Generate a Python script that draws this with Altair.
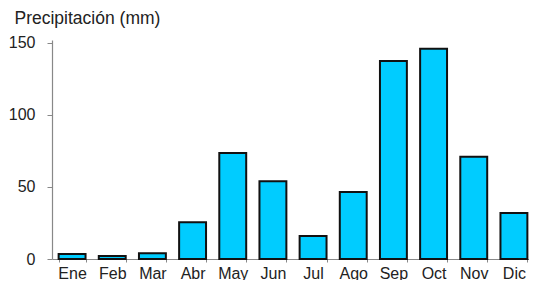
import altair as alt
import pandas as pd

months = ["Ene", "Feb", "Mar", "Abr", "May", "Jun", "Jul", "Ago", "Sep", "Oct", "Nov", "Dic"]
precip = [3.5, 2, 4, 25.5, 73.5, 54, 16, 46.5, 137.5, 146, 71, 32]

df = pd.DataFrame({"mes": months, "mm": precip})

FONT = "Liberation Sans"

chart = alt.Chart(df).mark_bar(
    color="#00CCFF", stroke="#111111", strokeWidth=2
).encode(
    x=alt.X("mes:N", sort=months,
            scale=alt.Scale(paddingInner=0.33, paddingOuter=0.165, range=[0, 482]),
            axis=alt.Axis(title=None, labelAngle=0, labelFont=FONT, labelFontSize=16,
                          labelColor="#222222", labelPadding=3, tickBand="extent",
                          tickSize=3, tickColor="#888888", domainColor="#888888",
                          domainWidth=1.2)),
    y=alt.Y("mm:Q", scale=alt.Scale(domain=[0, 152], nice=False),
            axis=alt.Axis(values=[0, 50, 100, 150], grid=False, labelFont=FONT,
                          labelFontSize=16, labelColor="#222222", labelPadding=12,
                          tickSize=5, tickColor="#888888", domainColor="#888888",
                          domainWidth=1.2,
                          title="Precipitación (mm)", titleAngle=0, titleAlign="left",
                          titleBaseline="middle", titleX=-38, titleY=-22,
                          titleFont=FONT, titleFontSize=17.5, titleFontWeight="normal",
                          titleColor="#222222")),
).properties(
    width=477, height=219,
    autosize=alt.AutoSizeParams(type="none"),
    padding={"left": 44, "top": 32, "right": 0, "bottom": 21},
).configure_view(stroke=None)

chart.save("out.html", embed_options={"renderer": "svg", "actions": False})
